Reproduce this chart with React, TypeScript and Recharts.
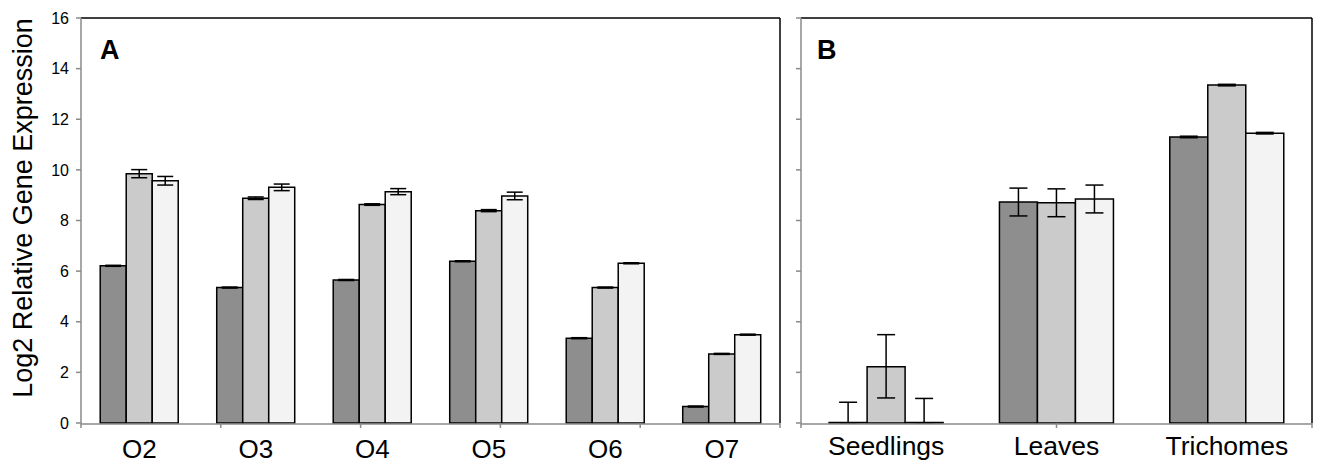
import React from "react";
import { BarChart, Bar, XAxis, YAxis, ErrorBar } from "recharts";

// panel A: tissue series O2..O7
const groupsA = ["O2", "O3", "O4", "O5", "O6", "O7"];
const darkA = [6.21, 5.35, 5.65, 6.39, 3.35, 0.65];
const midA = [9.85, 8.88, 8.63, 8.39, 5.35, 2.73];
const lightA = [9.57, 9.31, 9.14, 8.97, 6.31, 3.49];
const darkErrA = [0.02, 0.02, 0.02, 0.02, 0.02, 0.02];
const midErrA = [0.16, 0.05, 0.03, 0.04, 0.02, 0.02];
const lightErrA = [0.17, 0.13, 0.12, 0.15, 0.02, 0.02];

// panel B: tissues (seedling bars 1 and 3 are ~0)
const groupsB = ["Seedlings", "Leaves", "Trichomes"];
const darkB = [0.02, 8.73, 11.3];
const midB = [2.22, 8.7, 13.35];
const lightB = [0.02, 8.85, 11.45];
const darkErrB: [number, number][] = [[0.02, 0.8], [0.55, 0.55], [0.03, 0.03]];
const midErrB: [number, number][] = [[1.23, 1.27], [0.55, 0.55], [0.03, 0.03]];
const lightErrB: [number, number][] = [[0.02, 0.95], [0.55, 0.55], [0.03, 0.03]];

const yTicks = [0, 2, 4, 6, 8, 10, 12, 14, 16];

const FONT = "'Liberation Sans', Arial, sans-serif";
const AXIS_GREY = "#8a8a8a";
const COLORS = ["#8e8e8e", "#cbcbcb", "#f3f3f3"];

const dataA = groupsA.map((g, i) => ({
  name: g,
  dark: darkA[i],
  mid: midA[i],
  light: lightA[i],
  darkErr: darkErrA[i],
  midErr: midErrA[i],
  lightErr: lightErrA[i],
}));

const dataB = groupsB.map((g, i) => ({
  name: g,
  dark: darkB[i],
  mid: midB[i],
  light: lightB[i],
  darkErr: darkErrB[i],
  midErr: midErrB[i],
  lightErr: lightErrB[i],
}));

function Panel({ data, width, yWidth, showYLabels, capWidth, labelSize, labelMargin }: any) {
  const n = data.length;
  const bounds = Array.from({ length: n + 1 }, (_, i) => i);
  return (
    <BarChart
      width={width}
      height={463}
      data={data}
      margin={{ top: 17, right: 5, bottom: 0, left: 0 }}
      barCategoryGap="16.5%"
      barGap={0}
    >
      <XAxis
        xAxisId="bounds"
        type="number"
        domain={[0, n]}
        ticks={bounds}
        height={1}
        axisLine={false}
        tickLine={{ stroke: AXIS_GREY, strokeWidth: 1.5 }}
        tickSize={5}
        tickFormatter={() => ""}
      />
      <XAxis
        xAxisId="cat"
        dataKey="name"
        height={39}
        axisLine={{ stroke: AXIS_GREY, strokeWidth: 1.5 }}
        tickLine={false}
        tickSize={0}
        tickMargin={labelMargin}
        tick={{ fontSize: labelSize, fill: "#000", fontFamily: FONT }}
      />
      <XAxis
        xAxisId="top"
        dataKey="name"
        orientation="top"
        height={1}
        tick={false}
        tickLine={false}
        axisLine={{ stroke: "#000", strokeWidth: 1.5 }}
      />
      <YAxis
        yAxisId="l"
        width={yWidth}
        domain={[0, 16]}
        ticks={yTicks}
        interval={0}
        axisLine={{ stroke: AXIS_GREY, strokeWidth: 1.5 }}
        tickLine={{ stroke: AXIS_GREY, strokeWidth: 1.5 }}
        tickSize={5}
        tickMargin={7}
        tick={{ fontSize: 16, fill: "#000", fontFamily: FONT }}
        tickFormatter={showYLabels ? undefined : () => ""}
      />
      <YAxis
        yAxisId="r"
        orientation="right"
        width={1}
        domain={[0, 16]}
        tick={false}
        tickLine={false}
        axisLine={{ stroke: "#000", strokeWidth: 1.5 }}
      />
      {(["dark", "mid", "light"] as const).map((k, i) => (
        <Bar
          key={k}
          dataKey={k}
          xAxisId="cat"
          yAxisId="l"
          fill={COLORS[i]}
          stroke="#000"
          strokeWidth={1.5}
          isAnimationActive={false}
        >
          <ErrorBar
            dataKey={k + "Err"}
            width={capWidth}
            stroke="#000"
            strokeWidth={1.5}
            isAnimationActive={false}
          />
        </Bar>
      ))}
    </BarChart>
  );
}

export default function App() {
  return (
    <div
      style={{
        position: "absolute",
        left: 0,
        top: 0,
        width: 1318,
        height: 463,
        background: "#fff",
        fontFamily: FONT,
      }}
    >
      <div style={{ position: "absolute", left: 0, top: 0 }}>
        <Panel data={dataA} width={786} yWidth={81} showYLabels capWidth={8} labelSize={26} labelMargin={16} />
      </div>
      <div style={{ position: "absolute", left: 780, top: 0 }}>
        <Panel data={dataB} width={538} yWidth={21} showYLabels={false} capWidth={9} labelSize={26.5} labelMargin={12} />
      </div>
      <div
        style={{
          position: "absolute",
          left: 23,
          top: 208,
          transform: "translate(-50%, -50%) rotate(-90deg)",
          whiteSpace: "nowrap",
          fontSize: 27,
          color: "#000",
        }}
      >
        Log2 Relative Gene Expression
      </div>
      <div style={{ position: "absolute", left: 100, top: 35, fontSize: 27, fontWeight: "bold" }}>A</div>
      <div style={{ position: "absolute", left: 817, top: 35, fontSize: 27, fontWeight: "bold" }}>B</div>
    </div>
  );
}
